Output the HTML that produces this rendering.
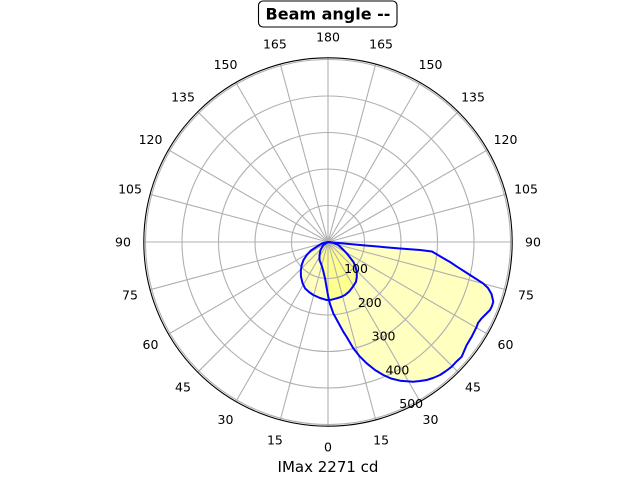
<!DOCTYPE html>
<html>
<head>
<meta charset="utf-8">
<style>
html,body{margin:0;padding:0;background:#fff;}
svg{display:block;}
text{font-family:"DejaVu Sans","Liberation Sans",sans-serif;fill:#000;}
</style>
</head>
<body>
<svg width="640" height="480" viewBox="0 0 640 480" xmlns="http://www.w3.org/2000/svg">
<rect width="640" height="480" fill="#fff"/>
<!-- fills -->
<g fill="#ffff00" fill-opacity="0.25" stroke="none">
<path id="big" d="M328,242 L360,245 L400,248.5 L420,250 L432,251.5 L443,258 L450,262 L457,266.7 L470,275 L483,283.3 L488,288 L491.5,294 L493.3,301.7 L492,306 L490,310 L486,314 L481.7,318.3 L478,323 L476.7,326.7 L471.7,336.7 L466.7,345 L461.7,356.7 L456,362 L451.7,366.7 L446,371 L440,375 L433,378 L426.7,380 L420,381 L413.3,381.7 L406.7,381.3 L400,380.7 L391,378.5 L383.3,375 L375,370 L366.7,363.3 L360,356.7 L353.3,348.3 L346.7,337 L343.3,331.7 L338,322 L333.3,313.3 L330,304 L328.3,297 L326.5,287 L325,278.3 L323,270 L321.5,265 L319.5,260 L319.5,255 L320.5,250 L323.3,245 Z"/>
<path id="small" d="M328,242 L322,243.5 L316.7,246.7 L311,250.5 L306.7,255 L303.5,260 L301.7,265 L300.8,271 L301,276.7 L302.5,283 L305,288.3 L309,292 L313.3,295 L320,298 L326.7,300 L331.5,299.7 L336.7,298.3 L341,297 L345,295 L349,291.7 L351.7,288.3 L354,285 L356,281.7 L356.8,277 L356.7,271.7 L355.5,266.5 L353.3,261.7 L350,257.5 L346.7,253.3 L342.5,249 L338.3,245 L333,242.8 Z"/>
</g>
<!-- grid -->
<g stroke="#b0b0b0" stroke-width="1.1" fill="none">
<circle cx="328" cy="242" r="36.5"/>
<circle cx="328" cy="242" r="73"/>
<circle cx="328" cy="242" r="109.5"/>
<circle cx="328" cy="242" r="146"/>
<circle cx="328" cy="242" r="182.5"/>
<line x1="328" y1="242" x2="328" y2="426.2"/>
<line x1="328" y1="242" x2="375.7" y2="419.9"/>
<line x1="328" y1="242" x2="420.1" y2="401.5"/>
<line x1="328" y1="242" x2="458.2" y2="372.2"/>
<line x1="328" y1="242" x2="487.5" y2="334.1"/>
<line x1="328" y1="242" x2="505.9" y2="289.7"/>
<line x1="328" y1="242" x2="512.2" y2="242"/>
<line x1="328" y1="242" x2="505.9" y2="194.3"/>
<line x1="328" y1="242" x2="487.5" y2="149.9"/>
<line x1="328" y1="242" x2="458.2" y2="111.8"/>
<line x1="328" y1="242" x2="420.1" y2="82.5"/>
<line x1="328" y1="242" x2="375.7" y2="64.1"/>
<line x1="328" y1="242" x2="328" y2="57.8"/>
<line x1="328" y1="242" x2="280.3" y2="64.1"/>
<line x1="328" y1="242" x2="235.9" y2="82.5"/>
<line x1="328" y1="242" x2="197.8" y2="111.8"/>
<line x1="328" y1="242" x2="168.5" y2="149.9"/>
<line x1="328" y1="242" x2="150.1" y2="194.3"/>
<line x1="328" y1="242" x2="143.8" y2="242"/>
<line x1="328" y1="242" x2="150.1" y2="289.7"/>
<line x1="328" y1="242" x2="168.5" y2="334.1"/>
<line x1="328" y1="242" x2="197.8" y2="372.2"/>
<line x1="328" y1="242" x2="235.9" y2="401.5"/>
<line x1="328" y1="242" x2="280.3" y2="419.9"/>
</g>
<!-- curves -->
<g fill="none" stroke="#0000ff" stroke-width="2" stroke-linejoin="round" stroke-linecap="round">
<use href="#big"/>
<use href="#small"/>
</g>
<!-- spine -->
<circle cx="328" cy="242" r="184.2" fill="none" stroke="#000" stroke-width="1.1"/>
<!-- angle labels -->
<g font-size="12.5" text-anchor="middle">
<text x="328" y="451.5">0</text>
<text x="381.1" y="444.5">15</text>
<text x="274.9" y="444.5">15</text>
<text x="430.5" y="424">30</text>
<text x="225.5" y="424">30</text>
<text x="473" y="391.5">45</text>
<text x="183" y="391.5">45</text>
<text x="505.5" y="349">60</text>
<text x="150.5" y="349">60</text>
<text x="526" y="299.6">75</text>
<text x="130" y="299.6">75</text>
<text x="533" y="246.5">90</text>
<text x="123" y="246.5">90</text>
<text x="526" y="193.4">105</text>
<text x="130" y="193.4">105</text>
<text x="505.5" y="144">120</text>
<text x="150.5" y="144">120</text>
<text x="473" y="101.5">135</text>
<text x="183" y="101.5">135</text>
<text x="430.5" y="69">150</text>
<text x="225.5" y="69">150</text>
<text x="381.1" y="48.5">165</text>
<text x="274.9" y="48.5">165</text>
<text x="328" y="41.5">180</text>
</g>
<!-- radial labels -->
<g font-size="12.5" text-anchor="middle">
<text x="356" y="273">100</text>
<text x="369.8" y="306.8">200</text>
<text x="383.6" y="340.6">300</text>
<text x="397.4" y="374.4">400</text>
<text x="411.2" y="408.2">500</text>
</g>
<!-- title -->
<rect x="258.5" y="1" width="138.5" height="26" rx="4.5" ry="4.5" fill="#fff" stroke="#000" stroke-width="1.1"/>
<text x="328" y="19.5" font-size="16" font-weight="bold" text-anchor="middle">Beam angle --</text>
<!-- xlabel -->
<text x="328" y="472" font-size="15" text-anchor="middle">IMax 2271 cd</text>
</svg>
</body>
</html>
